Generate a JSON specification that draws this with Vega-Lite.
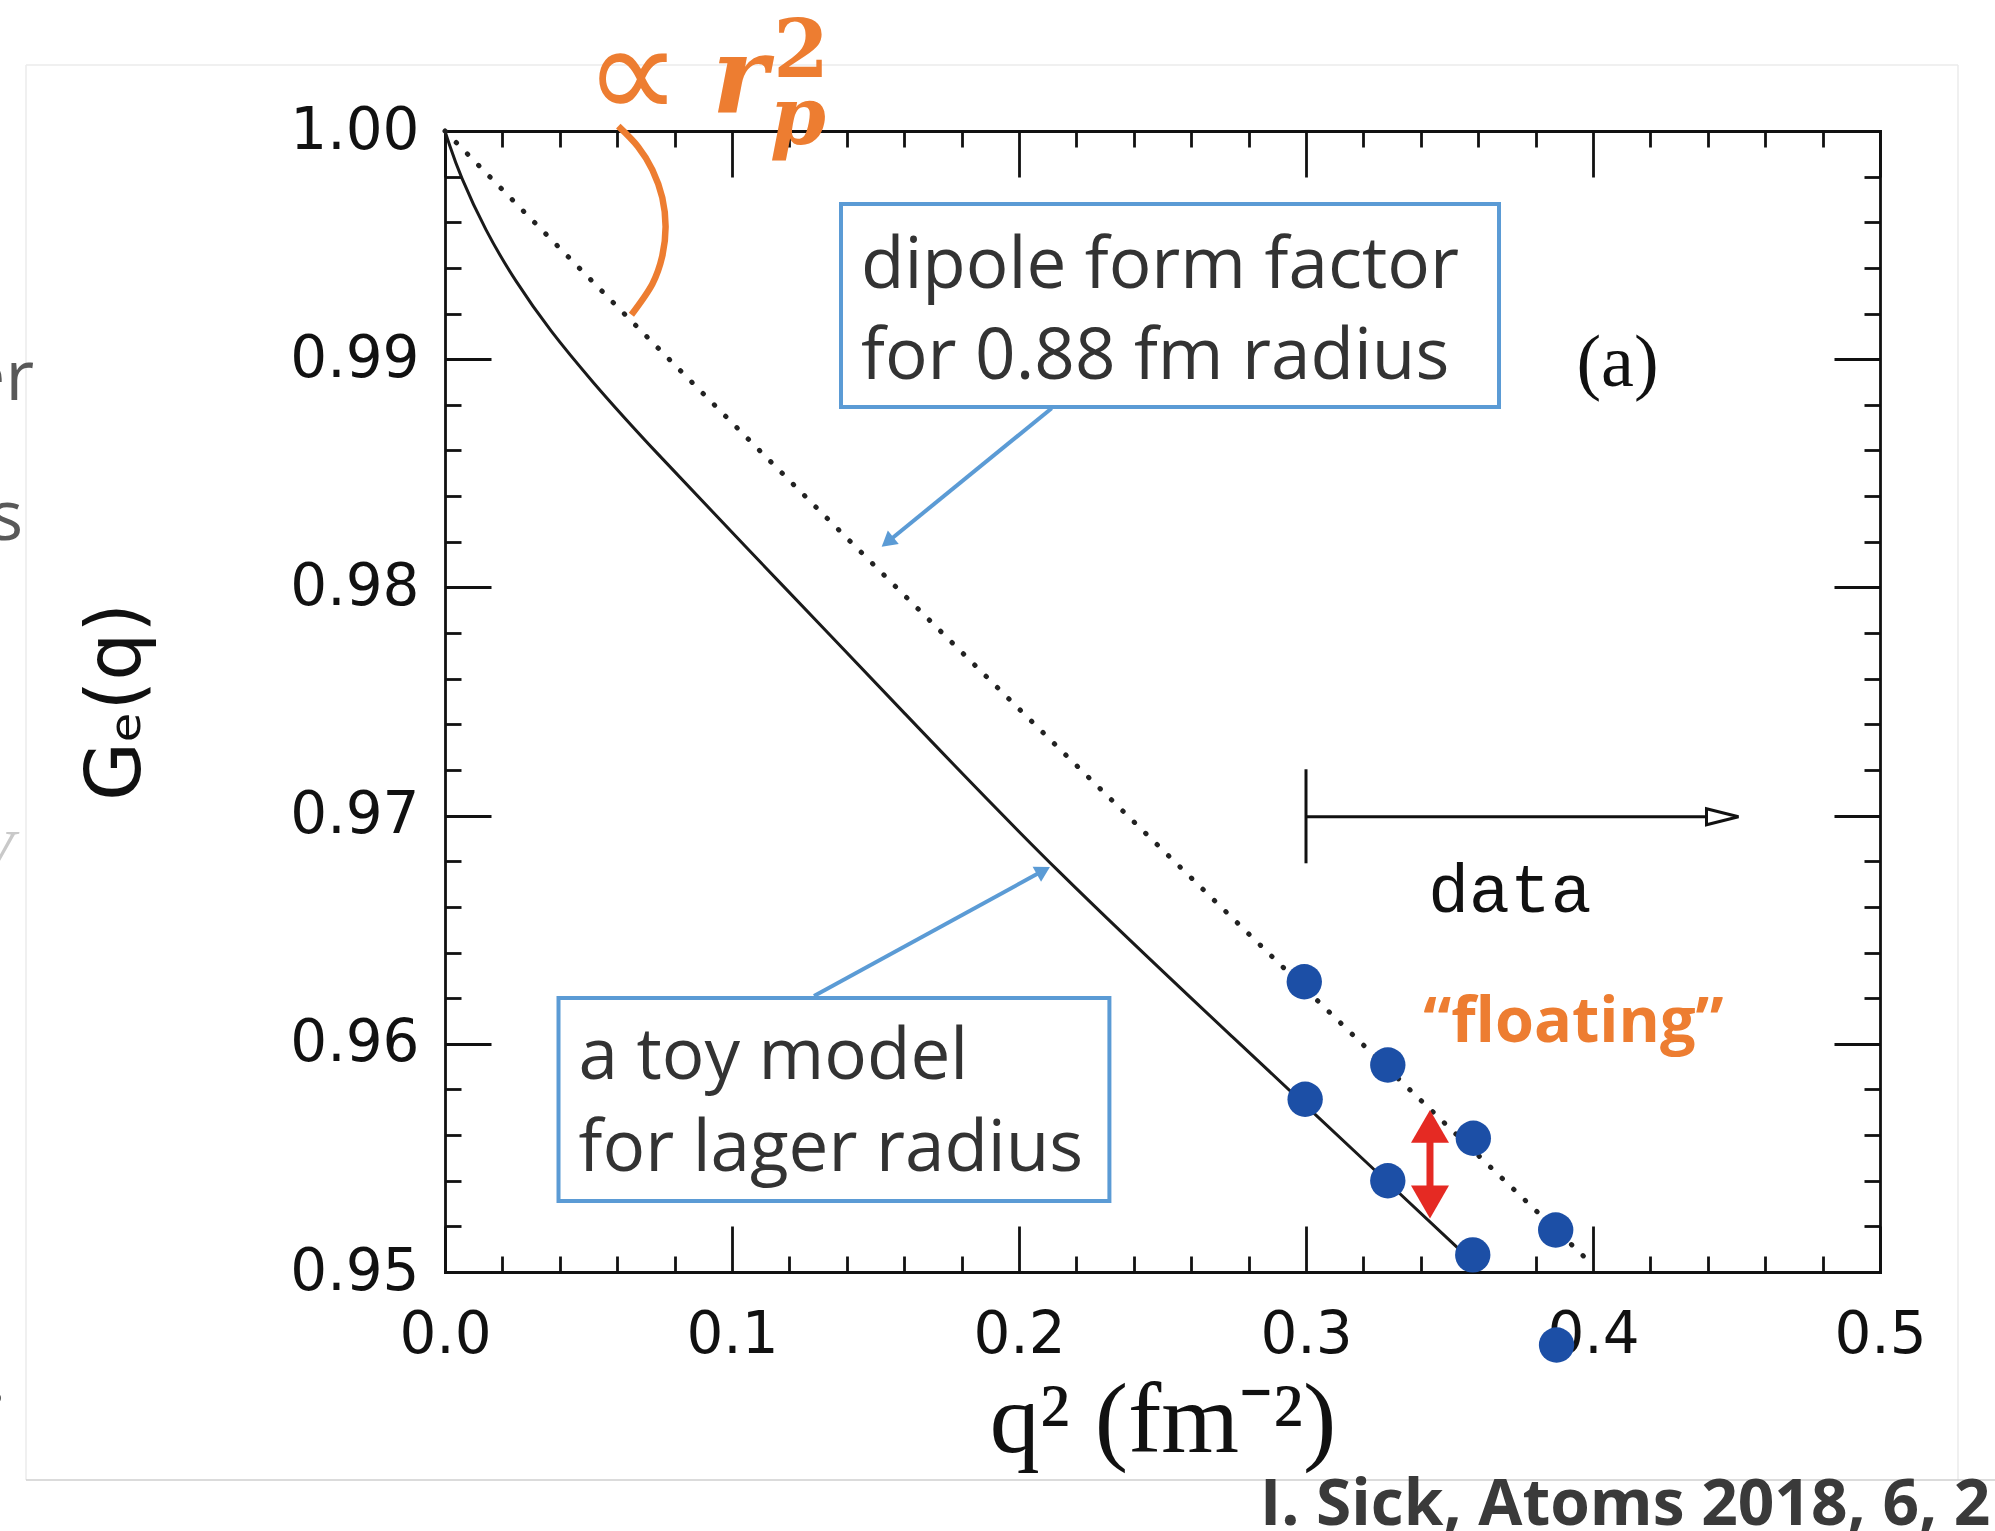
{
  "$schema": "https://vega.github.io/schema/vega-lite/v6.json",
  "width": 1435,
  "height": 1141,
  "autosize": {"type": "none"},
  "padding": {"left": 445, "top": 131, "right": 115, "bottom": 259},
  "background": "#ffffff",
  "config": {
    "view": {"stroke": null},
    "axis": {
      "grid": false,
      "domainColor": "#111111",
      "domainWidth": 2.8,
      "domainCap": "square",
      "tickColor": "#111111",
      "tickWidth": 2.8,
      "labelColor": "#111111",
      "labelFont": "DejaVu Sans",
      "labelFontSize": 58,
      "labelFlush": false,
      "labelOverlap": false,
      "labelBound": false,
      "titleColor": "#111111",
      "titleFontWeight": "normal"
    }
  },
  "datasets": {
    "toy_model": [
      {"q2": 0.0, "G": 1.0},
      {"q2": 0.0012, "G": 0.99952},
      {"q2": 0.00505, "G": 0.9981},
      {"q2": 0.01411, "G": 0.99562},
      {"q2": 0.02439, "G": 0.99343},
      {"q2": 0.03659, "G": 0.99124},
      {"q2": 0.05111, "G": 0.98904},
      {"q2": 0.069, "G": 0.9865},
      {"q2": 0.1188, "G": 0.97993},
      {"q2": 0.157, "G": 0.9749},
      {"q2": 0.2111, "G": 0.96775},
      {"q2": 0.284, "G": 0.95917},
      {"q2": 0.2997, "G": 0.95732},
      {"q2": 0.3285, "G": 0.95393},
      {"q2": 0.3537, "G": 0.95096}
    ],
    "dipole": [
      {"q2": 0.0, "G": 1.0},
      {"q2": 0.0825, "G": 0.98944},
      {"q2": 0.133, "G": 0.98305},
      {"q2": 0.2, "G": 0.97468},
      {"q2": 0.3, "G": 0.96238},
      {"q2": 0.399, "G": 0.95042}
    ],
    "points_dipole": [
      {"q2": 0.2994, "G": 0.96272},
      {"q2": 0.3285, "G": 0.95907},
      {"q2": 0.3583, "G": 0.95586},
      {"q2": 0.387, "G": 0.95184}
    ],
    "points_shifted": [
      {"q2": 0.2997, "G": 0.95757},
      {"q2": 0.3285, "G": 0.954},
      {"q2": 0.3581, "G": 0.95075},
      {"q2": 0.3873, "G": 0.9468}
    ],
    "slide_frame": [
      {"x": -0.14599, "y": 1.00289, "x2": 0.52718, "y2": 1.00289},
      {"x": 0.52718, "y": 1.00289, "x2": 0.52718, "y2": 0.94088},
      {"x": -0.14599, "y": 1.00289, "x2": -0.14599, "y2": 0.94088}
    ],
    "r2_arc": [
      {"i": 0, "x": 0.06038, "y": 1.00021},
      {"i": 1, "x": 0.06725, "y": 0.99931},
      {"i": 2, "x": 0.07226, "y": 0.9983},
      {"i": 3, "x": 0.07571, "y": 0.99708},
      {"i": 4, "x": 0.07686, "y": 0.9958},
      {"i": 5, "x": 0.07571, "y": 0.99452},
      {"i": 6, "x": 0.07226, "y": 0.9933},
      {"i": 7, "x": 0.06495, "y": 0.99195}
    ]
  },
  "layer": [
    {
      "data": {"name": "slide_frame"},
      "mark": {"type": "rule", "color": "#ebebeb", "strokeWidth": 1.5},
      "encoding": {
        "x": {"field": "x", "type": "quantitative", "axis": null},
        "y": {"field": "y", "type": "quantitative", "axis": null},
        "x2": {"field": "x2"},
        "y2": {"field": "y2"}
      }
    },
    {
      "data": {"values": [{"x": -0.14599, "x2": 0.54007, "y": 0.94088}]},
      "mark": {"type": "rule", "color": "#cfcfcf", "strokeWidth": 1.5},
      "encoding": {
        "x": {"field": "x", "type": "quantitative", "axis": null},
        "x2": {"field": "x2"},
        "y": {"field": "y", "type": "quantitative", "axis": null}
      }
    },
    {
      "data": {"name": "toy_model"},
      "mark": {"type": "line", "color": "#1a1a1a", "strokeWidth": 3, "interpolate": "basis"},
      "encoding": {
        "x": {
          "field": "q2", "type": "quantitative",
          "scale": {"domain": [0, 0.5], "nice": false, "zero": false},
          "axis": {
            "orient": "bottom", "values": [0, 0.1, 0.2, 0.3, 0.4, 0.5], "format": ".1f",
            "tickSize": -46, "labelPadding": 80,
            "title": "q²  (fm⁻²)", "titleFont": "Liberation Serif", "titleFontSize": 100, "titlePadding": 8
          }
        },
        "y": {
          "field": "G", "type": "quantitative",
          "scale": {"domain": [0.95, 1.0], "nice": false, "zero": false},
          "axis": {
            "orient": "left", "values": [0.95, 0.96, 0.97, 0.98, 0.99, 1.0], "format": ".2f",
            "tickSize": -46, "labelPadding": 72,
            "title": "Gₑ(q)", "titleFont": "DejaVu Sans", "titleFontSize": 76, "titlePadding": 134
          }
        }
      }
    },
    {
      "data": {"name": "dipole"},
      "mark": {"type": "line", "color": "#222222", "strokeWidth": 5, "strokeDash": [0.5, 15.5], "strokeCap": "round", "interpolate": "monotone"},
      "encoding": {
        "x": {
          "field": "q2", "type": "quantitative",
          "scale": {"domain": [0, 0.5], "nice": false, "zero": false},
          "axis": {
            "orient": "bottom",
            "values": [0.02, 0.04, 0.06, 0.08, 0.12, 0.14, 0.16, 0.18, 0.22, 0.24, 0.26, 0.28, 0.32, 0.34, 0.36, 0.38, 0.42, 0.44, 0.46, 0.48],
            "tickSize": -16, "labels": false, "domain": false, "title": null
          }
        },
        "y": {
          "field": "G", "type": "quantitative",
          "scale": {"domain": [0.95, 1.0], "nice": false, "zero": false},
          "axis": {
            "orient": "left",
            "values": [0.952, 0.954, 0.956, 0.958, 0.962, 0.964, 0.966, 0.968, 0.972, 0.974, 0.976, 0.978, 0.982, 0.984, 0.986, 0.988, 0.992, 0.994, 0.996, 0.998],
            "tickSize": -16, "labels": false, "domain": false, "title": null
          }
        }
      }
    },
    {
      "data": {"name": "points_dipole"},
      "mark": {"type": "circle", "color": "#1c4fa6", "opacity": 1, "size": 1250},
      "encoding": {
        "x": {
          "field": "q2", "type": "quantitative",
          "scale": {"domain": [0, 0.5], "nice": false, "zero": false},
          "axis": {
            "orient": "top", "values": [0, 0.1, 0.2, 0.3, 0.4, 0.5],
            "tickSize": -46, "labels": false, "domain": true, "title": null
          }
        },
        "y": {
          "field": "G", "type": "quantitative",
          "scale": {"domain": [0.95, 1.0], "nice": false, "zero": false},
          "axis": {
            "orient": "right", "values": [0.95, 0.96, 0.97, 0.98, 0.99, 1.0],
            "tickSize": -46, "labels": false, "domain": true, "title": null
          }
        }
      }
    },
    {
      "data": {"name": "points_shifted"},
      "mark": {"type": "circle", "color": "#1c4fa6", "opacity": 1, "size": 1250},
      "encoding": {
        "x": {
          "field": "q2", "type": "quantitative",
          "scale": {"domain": [0, 0.5], "nice": false, "zero": false},
          "axis": {
            "orient": "top",
            "values": [0.02, 0.04, 0.06, 0.08, 0.12, 0.14, 0.16, 0.18, 0.22, 0.24, 0.26, 0.28, 0.32, 0.34, 0.36, 0.38, 0.42, 0.44, 0.46, 0.48],
            "tickSize": -16, "labels": false, "domain": false, "title": null
          }
        },
        "y": {
          "field": "G", "type": "quantitative",
          "scale": {"domain": [0.95, 1.0], "nice": false, "zero": false},
          "axis": {
            "orient": "right",
            "values": [0.952, 0.954, 0.956, 0.958, 0.962, 0.964, 0.966, 0.968, 0.972, 0.974, 0.976, 0.978, 0.982, 0.984, 0.986, 0.988, 0.992, 0.994, 0.996, 0.998],
            "tickSize": -16, "labels": false, "domain": false, "title": null
          }
        }
      }
    },
    {
      "data": {"name": "r2_arc"},
      "mark": {"type": "line", "color": "#ed7d31", "strokeWidth": 6.5, "interpolate": "cardinal", "strokeCap": "butt"},
      "encoding": {
        "x": {"field": "x", "type": "quantitative", "axis": null},
        "y": {"field": "y", "type": "quantitative", "axis": null},
        "order": {"field": "i", "type": "quantitative"}
      }
    },
    {
      "data": {"values": [
        {"x": 0.21139, "y": 0.98785, "x2": 0.15418, "y2": 0.98199},
        {"x": 0.12857, "y": 0.96209, "x2": 0.2085, "y2": 0.96759}
      ]},
      "mark": {"type": "rule", "color": "#5b9bd5", "strokeWidth": 4},
      "encoding": {
        "x": {"field": "x", "type": "quantitative", "axis": null},
        "y": {"field": "y", "type": "quantitative", "axis": null},
        "x2": {"field": "x2"},
        "y2": {"field": "y2"}
      }
    },
    {
      "data": {"values": [{"x": 0.15418, "y": 0.98199}]},
      "mark": {"type": "point", "shape": "triangle-up", "filled": true, "color": "#5b9bd5", "opacity": 1, "size": 300, "angle": 230.85},
      "encoding": {
        "x": {"field": "x", "type": "quantitative", "axis": null},
        "y": {"field": "y", "type": "quantitative", "axis": null}
      }
    },
    {
      "data": {"values": [{"x": 0.2085, "y": 0.96759}]},
      "mark": {"type": "point", "shape": "triangle-up", "filled": true, "color": "#5b9bd5", "opacity": 1, "size": 300, "angle": 60.9},
      "encoding": {
        "x": {"field": "x", "type": "quantitative", "axis": null},
        "y": {"field": "y", "type": "quantitative", "axis": null}
      }
    },
    {
      "data": {"values": [
        {"x1": 0.13798, "x2": 0.36725, "y1": 0.9968, "y2": 0.98791},
        {"x1": 0.03955, "x2": 0.2315, "y1": 0.96201, "y2": 0.95311}
      ]},
      "mark": {"type": "rect", "fill": "#ffffff", "stroke": "#5b9bd5", "strokeWidth": 4},
      "encoding": {
        "x": {"field": "x1", "type": "quantitative", "axis": null},
        "x2": {"field": "x2"},
        "y": {"field": "y1", "type": "quantitative", "axis": null},
        "y2": {"field": "y2"}
      }
    },
    {
      "data": {"values": [
        {"x": 0.14495, "y": 0.99312, "text": "dipole form factor"},
        {"x": 0.14495, "y": 0.98913, "text": "for 0.88 fm radius"},
        {"x": 0.04655, "y": 0.95846, "text": "a toy model"},
        {"x": 0.04655, "y": 0.95444, "text": "for lager radius"}
      ]},
      "mark": {"type": "text", "align": "left", "baseline": "alphabetic", "font": "Open Sans", "fontSize": 71, "color": "#333333"},
      "encoding": {
        "x": {"field": "x", "type": "quantitative", "axis": null},
        "y": {"field": "y", "type": "quantitative", "axis": null},
        "text": {"field": "text"}
      }
    },
    {
      "data": {"values": [{"x": 0.3432, "y_up": 0.95638, "y_down": 0.95307}]},
      "layer": [
        {
          "mark": {"type": "rule", "color": "#e52a23", "strokeWidth": 7},
          "encoding": {
            "x": {"field": "x", "type": "quantitative", "axis": null},
            "y": {"field": "y_up", "type": "quantitative", "axis": null},
            "y2": {"field": "y_down"}
          }
        },
        {
          "mark": {"type": "point", "shape": "triangle-up", "filled": true, "color": "#e52a23", "opacity": 1, "size": 1444},
          "encoding": {
            "x": {"field": "x", "type": "quantitative", "axis": null},
            "y": {"field": "y_up", "type": "quantitative", "axis": null}
          }
        },
        {
          "mark": {"type": "point", "shape": "triangle-down", "filled": true, "color": "#e52a23", "opacity": 1, "size": 1444},
          "encoding": {
            "x": {"field": "x", "type": "quantitative", "axis": null},
            "y": {"field": "y_down", "type": "quantitative", "axis": null}
          }
        }
      ]
    },
    {
      "data": {"values": [{"start": 0.3, "end": 0.4396, "head": 0.44512, "level": 0.96995, "bar_top": 0.97203, "bar_bottom": 0.96791}]},
      "layer": [
        {
          "mark": {"type": "rule", "color": "#111111", "strokeWidth": 3},
          "encoding": {
            "x": {"field": "start", "type": "quantitative", "axis": null},
            "y": {"field": "bar_top", "type": "quantitative", "axis": null},
            "y2": {"field": "bar_bottom"}
          }
        },
        {
          "mark": {"type": "rule", "color": "#111111", "strokeWidth": 3},
          "encoding": {
            "x": {"field": "start", "type": "quantitative", "axis": null},
            "x2": {"field": "end"},
            "y": {"field": "level", "type": "quantitative", "axis": null}
          }
        },
        {
          "mark": {"type": "point", "shape": "M-1,-0.5L1,0L-1,0.5Z", "filled": false, "fill": "#ffffff", "fillOpacity": 1, "stroke": "#111111", "strokeWidth": 3, "opacity": 1, "size": 1024},
          "encoding": {
            "x": {"field": "head", "type": "quantitative", "axis": null},
            "y": {"field": "level", "type": "quantitative", "axis": null}
          }
        }
      ]
    },
    {
      "data": {"values": [{"x": 0.40854, "y": 0.98883, "text": "(a)"}]},
      "mark": {"type": "text", "align": "center", "baseline": "alphabetic", "font": "Liberation Serif", "fontSize": 74, "color": "#111111"},
      "encoding": {
        "x": {"field": "x", "type": "quantitative", "axis": null},
        "y": {"field": "y", "type": "quantitative", "axis": null},
        "text": {"field": "text"}
      }
    },
    {
      "data": {"values": [{"x": 0.34261, "y": 0.96579, "text": "data"}]},
      "mark": {"type": "text", "align": "left", "baseline": "alphabetic", "font": "Liberation Mono", "fontSize": 68, "color": "#111111"},
      "encoding": {
        "x": {"field": "x", "type": "quantitative", "axis": null},
        "y": {"field": "y", "type": "quantitative", "axis": null},
        "text": {"field": "text"}
      }
    },
    {
      "data": {"values": [{"x": 0.34087, "y": 0.96009, "text": "“floating”"}]},
      "mark": {"type": "text", "align": "left", "baseline": "alphabetic", "font": "Open Sans", "fontWeight": "bold", "fontSize": 63, "color": "#ed7d31"},
      "encoding": {
        "x": {"field": "x", "type": "quantitative", "axis": null},
        "y": {"field": "y", "type": "quantitative", "axis": null},
        "text": {"field": "text"}
      }
    },
    {
      "data": {"values": [{"x": 0.06551, "y": 1.00232, "text": "∝"}]},
      "mark": {"type": "text", "align": "center", "baseline": "middle", "font": "DejaVu Sans", "fontSize": 135, "color": "#ed7d31"},
      "encoding": {
        "x": {"field": "x", "type": "quantitative", "axis": null},
        "y": {"field": "y", "type": "quantitative", "axis": null},
        "text": {"field": "text"}
      }
    },
    {
      "data": {"values": [{"x": 0.093, "y": 1.00085, "text": "r"}]},
      "mark": {"type": "text", "align": "left", "baseline": "alphabetic", "font": "DejaVu Serif", "fontWeight": "bold", "fontStyle": "italic", "fontSize": 106, "color": "#ed7d31"},
      "encoding": {
        "x": {"field": "x", "type": "quantitative", "axis": null},
        "y": {"field": "y", "type": "quantitative", "axis": null},
        "text": {"field": "text"}
      }
    },
    {
      "data": {"values": [{"x": 0.11324, "y": 0.99943, "text": "p"}]},
      "mark": {"type": "text", "align": "left", "baseline": "alphabetic", "font": "DejaVu Serif", "fontWeight": "bold", "fontStyle": "italic", "fontSize": 80, "color": "#ed7d31"},
      "encoding": {
        "x": {"field": "x", "type": "quantitative", "axis": null},
        "y": {"field": "y", "type": "quantitative", "axis": null},
        "text": {"field": "text"}
      }
    },
    {
      "data": {"values": [{"x": 0.11439, "y": 1.00238, "text": "2"}]},
      "mark": {"type": "text", "align": "left", "baseline": "alphabetic", "font": "DejaVu Serif", "fontWeight": "bold", "fontSize": 80, "color": "#ed7d31"},
      "encoding": {
        "x": {"field": "x", "type": "quantitative", "axis": null},
        "y": {"field": "y", "type": "quantitative", "axis": null},
        "text": {"field": "text"}
      }
    },
    {
      "data": {"values": [{"x": 0.28397, "y": 0.93891, "text": "I. Sick, Atoms 2018, 6, 2"}]},
      "mark": {"type": "text", "align": "left", "baseline": "alphabetic", "font": "Open Sans", "fontWeight": "bold", "fontSize": 64, "color": "#3a3a3a"},
      "encoding": {
        "x": {"field": "x", "type": "quantitative", "axis": null},
        "y": {"field": "y", "type": "quantitative", "axis": null},
        "text": {"field": "text"}
      }
    },
    {
      "data": {"values": [
        {"x": -0.1432, "y": 0.98821, "text": "er"},
        {"x": -0.14704, "y": 0.98208, "text": "s"},
        {"x": -0.15287, "y": 0.9443, "text": "."}
      ]},
      "mark": {"type": "text", "align": "right", "baseline": "alphabetic", "font": "Open Sans", "fontSize": 70, "color": "#595959"},
      "encoding": {
        "x": {"field": "x", "type": "quantitative", "axis": null},
        "y": {"field": "y", "type": "quantitative", "axis": null},
        "text": {"field": "text"}
      }
    },
    {
      "data": {"values": [{"x": -0.1505, "y": 0.9674, "text": "V"}]},
      "mark": {"type": "text", "align": "right", "baseline": "alphabetic", "font": "Liberation Serif", "fontStyle": "italic", "fontSize": 66, "color": "#c9c9c9"},
      "encoding": {
        "x": {"field": "x", "type": "quantitative", "axis": null},
        "y": {"field": "y", "type": "quantitative", "axis": null},
        "text": {"field": "text"}
      }
    }
  ],
  "resolve": {"axis": {"x": "independent", "y": "independent"}}
}
